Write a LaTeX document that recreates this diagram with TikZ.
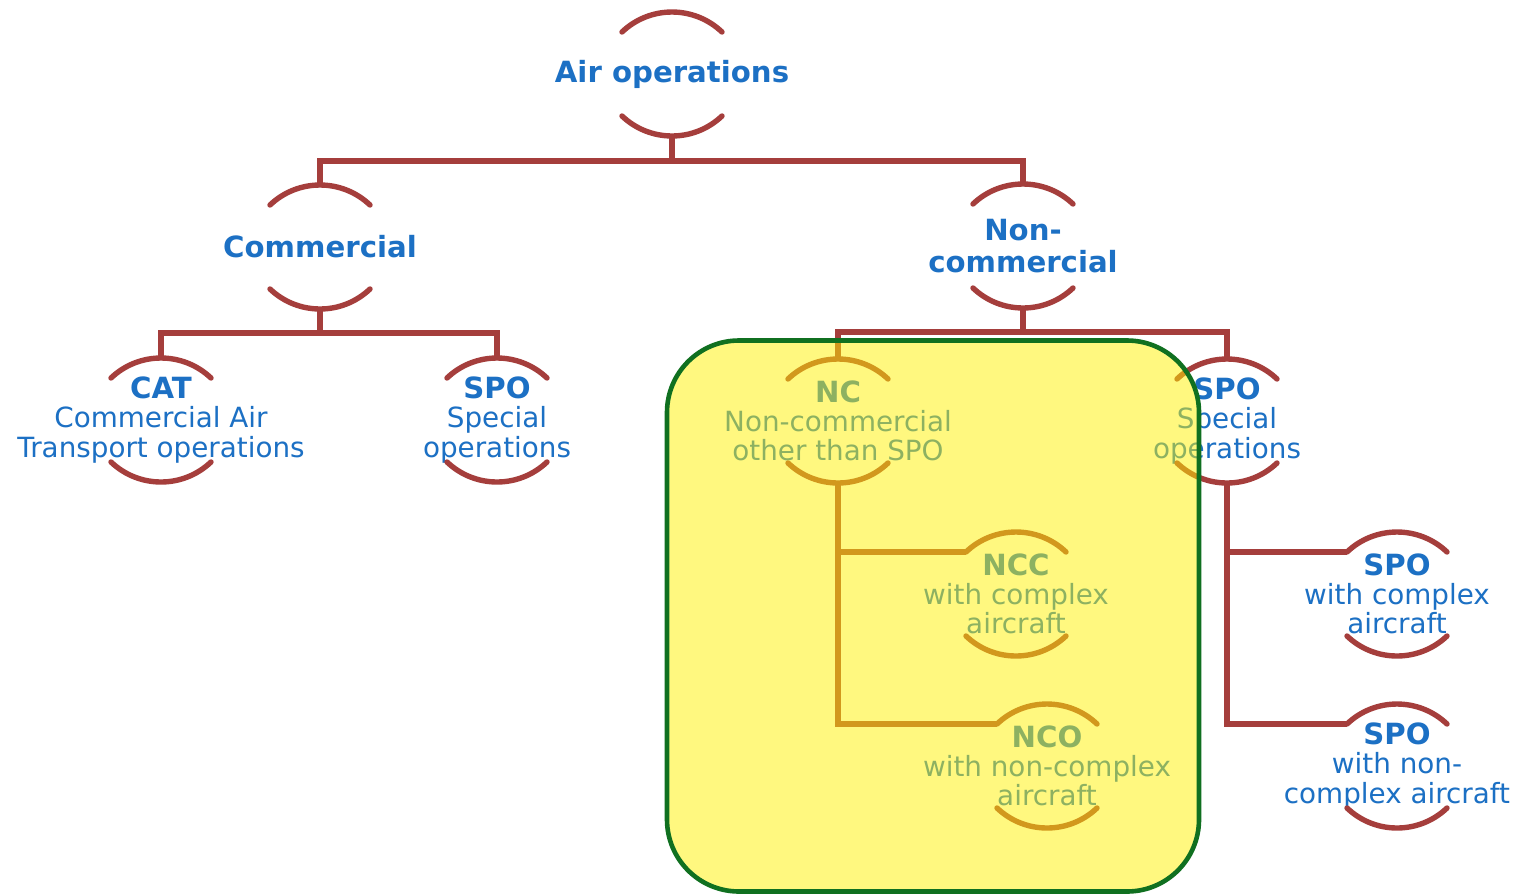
\documentclass[tikz,border=0pt]{standalone}
\usepackage{fontspec}
\setmainfont{DejaVu Sans}
\definecolor{linered}{RGB}{165,62,60}
\definecolor{txtblue}{RGB}{28,112,196}
\definecolor{boxgreen}{RGB}{16,112,32}
\newcommand\bhead[1]{{\fontsize{14.6}{15}\selectfont\bfseries #1}}
\newcommand\opnode[4]{%
  \node[lbl] (#1) at (#2,#3) {#4};
  \coordinate (#1-t) at (#2,#3-62);
  \coordinate (#1-b) at (#2,#3+62);
  \coordinate (#1-l) at (#2-50,#3-42);
  \draw[arcline] ([shift={(226.4:72.5)}]#2,#3+10.5) arc[start angle=226.4,end angle=313.6,radius=72.5];
  \draw[arcline] ([shift={(46.4:72.5)}]#2,#3-10.5) arc[start angle=46.4,end angle=133.6,radius=72.5];
}
\begin{document}
\begin{tikzpicture}[x=0.5pt,y=-0.5pt,
  lbl/.style={text=txtblue, align=center, inner sep=0pt, font=\fontsize{13.9}{14.6}\selectfont},
  arcline/.style={draw=linered, line width=2.7pt, line cap=round},
  conn/.style={draw=linered, line width=2.7pt, line join=miter},
  hlbox/.style={draw=boxgreen, line width=2.3pt, fill=yellow, fill opacity=0.5, rounded corners=36pt,
    minimum width=266pt, minimum height=275.5pt, inner sep=0pt}]
\useasboundingbox (0,0) rectangle (1526,895);
\fill[white] (0,0) rectangle (1526,895);

\opnode{air}{672}{74}{\bhead{Air operations}}
\opnode{comm}{320}{247}{\bhead{Commercial}}
\opnode{ncom}{1023}{246}{\bhead{Non-}\\[1pt]\bhead{commercial}}
\opnode{cat}{161}{420}{\bhead{CAT}\\Commercial Air\\Transport operations}
\opnode{spoL}{497}{420}{\bhead{SPO}\\Special\\operations}
\opnode{nc}{838}{421}{\bhead{NC}\\Non-commercial\\other than SPO}
\opnode{spoR}{1227}{421}{\bhead{SPO}\\Special\\operations}
\opnode{ncc}{1016}{594}{\bhead{NCC}\\with complex\\aircraft}
\opnode{nco}{1047}{766}{\bhead{NCO}\\with non-complex\\aircraft}
\opnode{spoc}{1397}{594}{\bhead{SPO}\\with complex\\aircraft}
\opnode{spon}{1397}{766}{\bhead{SPO}\\with non-\\complex aircraft}

\draw[conn] (air-b) -- ++(0,25) coordinate (j1);
\draw[conn] (comm-t) |- (j1) -| (ncom-t);
\draw[conn] (comm-b) -- ++(0,24) coordinate (j2);
\draw[conn] (cat-t) |- (j2) -| (spoL-t);
\draw[conn] (ncom-b) -- ++(0,24) coordinate (j3);
\draw[conn] (nc-t) |- (j3) -| (spoR-t);
\draw[conn] (nc-b) |- (nco-l);
\draw[conn] (ncc-l) -| (nc-b);
\draw[conn] (spoR-b) |- (spoc-l);
\draw[conn] (spoR-b) |- (spon-l);

\node[hlbox] (hl) at (933,616) {};
\end{tikzpicture}
\end{document}
